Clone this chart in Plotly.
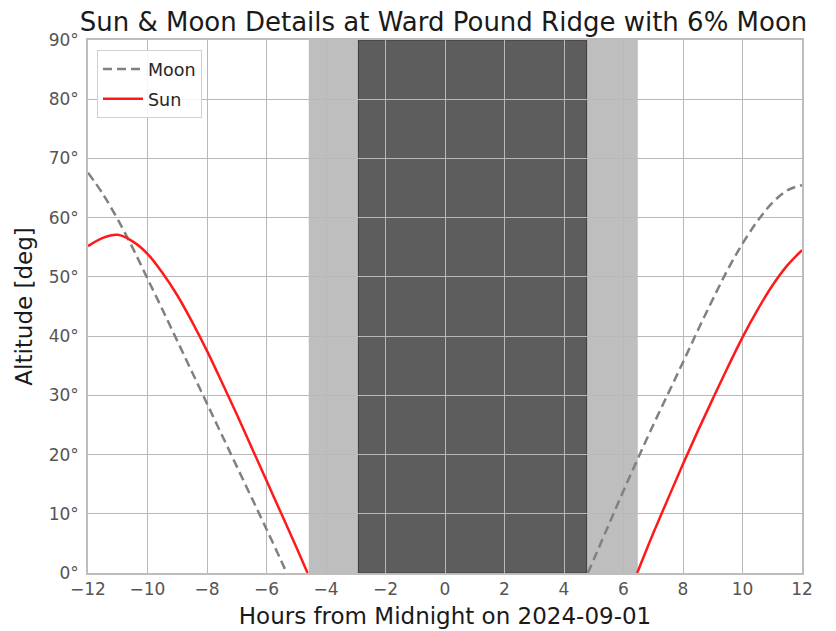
import plotly.graph_objects as go

# ---- data ----
sun_left_hours = [-12, -11.5, -11, -10.5, -10, -9.5, -9, -8.5, -8, -7.5, -7, -6.5, -6, -5.5, -5, -4.62]
sun_left_alt = [55.2, 56.6, 57.1, 56.0, 53.9, 50.7, 46.9, 42.4, 37.5, 32.2, 26.8, 21.2, 15.6, 10.0, 4.4, 0.0]
sun_right_hours = [6.46, 7, 7.5, 8, 8.5, 9, 9.5, 10, 10.5, 11, 11.5, 12]
sun_right_alt = [0.0, 6.7, 12.6, 18.4, 24.0, 29.4, 34.7, 39.8, 44.4, 48.5, 51.9, 54.5]

moon_left_hours = [-12, -11.5, -11, -10.5, -10, -9.5, -9, -8.5, -8, -7.5, -7, -6.5, -6, -5.5, -5.32]
moon_left_alt = [67.6, 64.0, 59.7, 54.9, 49.7, 44.5, 39.2, 33.9, 28.6, 23.3, 18.0, 12.7, 7.4, 2.0, 0.0]
moon_right_hours = [4.8, 5, 5.5, 6, 6.5, 7, 7.5, 8, 8.5, 9, 9.5, 10, 10.5, 11, 11.5, 12]
moon_right_alt = [0.0, 2.3, 8.1, 13.9, 19.5, 25.0, 30.3, 35.6, 41.0, 46.2, 51.2, 55.6, 59.4, 62.5, 64.6, 65.5]

twilight_bands = [(-4.58, -2.91), (4.76, 6.48)]
night_band = (-2.91, 4.76)

x_ticks = [-12, -10, -8, -6, -4, -2, 0, 2, 4, 6, 8, 10, 12]
x_tick_labels = ["−12", "−10", "−8", "−6", "−4", "−2", "0", "2", "4", "6", "8", "10", "12"]
y_ticks = [0, 10, 20, 30, 40, 50, 60, 70, 80, 90]
y_tick_labels = ["0°", "10°", "20°", "30°", "40°", "50°", "60°", "70°", "80°", "90°"]

title_text = "Sun & Moon Details at Ward Pound Ridge with 6% Moon"
x_title = "Hours from Midnight on 2024-09-01"
y_title = "Altitude [deg]"

FONT = "DejaVu Sans"

fig = go.Figure()

fig.add_trace(go.Scatter(x=moon_left_hours + [None] + moon_right_hours,
                         y=moon_left_alt + [None] + moon_right_alt,
                         mode="lines", name="Moon", line_shape="spline", legendgroup="moon",
                         line=dict(color="#808080", width=2.5, dash="9px,5px")))
fig.add_trace(go.Scatter(x=sun_left_hours + [None] + sun_right_hours,
                         y=sun_left_alt + [None] + sun_right_alt,
                         mode="lines", name="Sun", line_shape="spline", legendgroup="sun",
                         line=dict(color="#ff1a1a", width=2.5)))

shapes = []
for a, b in twilight_bands:
    shapes.append(dict(type="rect", xref="x", yref="paper", x0=a, x1=b, y0=0, y1=1,
                       fillcolor="#bebebe", line=dict(width=0), layer="below"))
shapes.append(dict(type="rect", xref="x", yref="paper", x0=night_band[0], x1=night_band[1],
                   y0=0, y1=1, fillcolor="#5d5d5d", line=dict(color="#3a3a3a", width=1),
                   layer="below"))

# page body adds an ~8px offset, so the figure is sized/placed to compensate
fig.update_layout(
    width=828, height=623,
    margin=dict(l=80, r=34, t=32, b=58, autoexpand=False),
    paper_bgcolor="white", plot_bgcolor="white",
    font=dict(family=FONT, size=17, color="#555555"),
    title=dict(text=title_text, x=0.526, xanchor="center", xref="container",
               y=0.993, yanchor="top", yref="container",
               font=dict(family=FONT, size=26, color="#1a1a1a")),
    shapes=shapes,
    showlegend=True,
    legend=dict(x=0.0126, y=0.981, xanchor="left", yanchor="top",
                bgcolor="rgba(255,255,255,0.85)", bordercolor="#d0d0d0", borderwidth=1,
                font=dict(family=FONT, size=17.5, color="#262626"),
                itemwidth=40, tracegroupgap=4),
)

fig.update_xaxes(range=[-12, 12], tickvals=x_ticks, ticktext=x_tick_labels, showgrid=True,
                 gridcolor="#b8b8b8", gridwidth=1, zeroline=False, showline=True,
                 linecolor="#bdbdbd", linewidth=1.5, mirror=True, ticks="", automargin=False,
                 tickfont=dict(size=17, color="#555555"),
                 title=dict(text=x_title, font=dict(size=23, color="#1a1a1a"), standoff=10))
fig.update_yaxes(range=[0, 90], tickvals=y_ticks, ticktext=y_tick_labels, showgrid=True,
                 gridcolor="#b8b8b8", gridwidth=1, zeroline=False, showline=True,
                 linecolor="#bdbdbd", linewidth=1.5, mirror=True, ticks="", automargin=False,
                 ticklabelstandoff=4,
                 tickfont=dict(size=17, color="#555555"),
                 title=dict(text=y_title, font=dict(size=23, color="#1a1a1a"), standoff=10))

fig.write_html("out.html")
